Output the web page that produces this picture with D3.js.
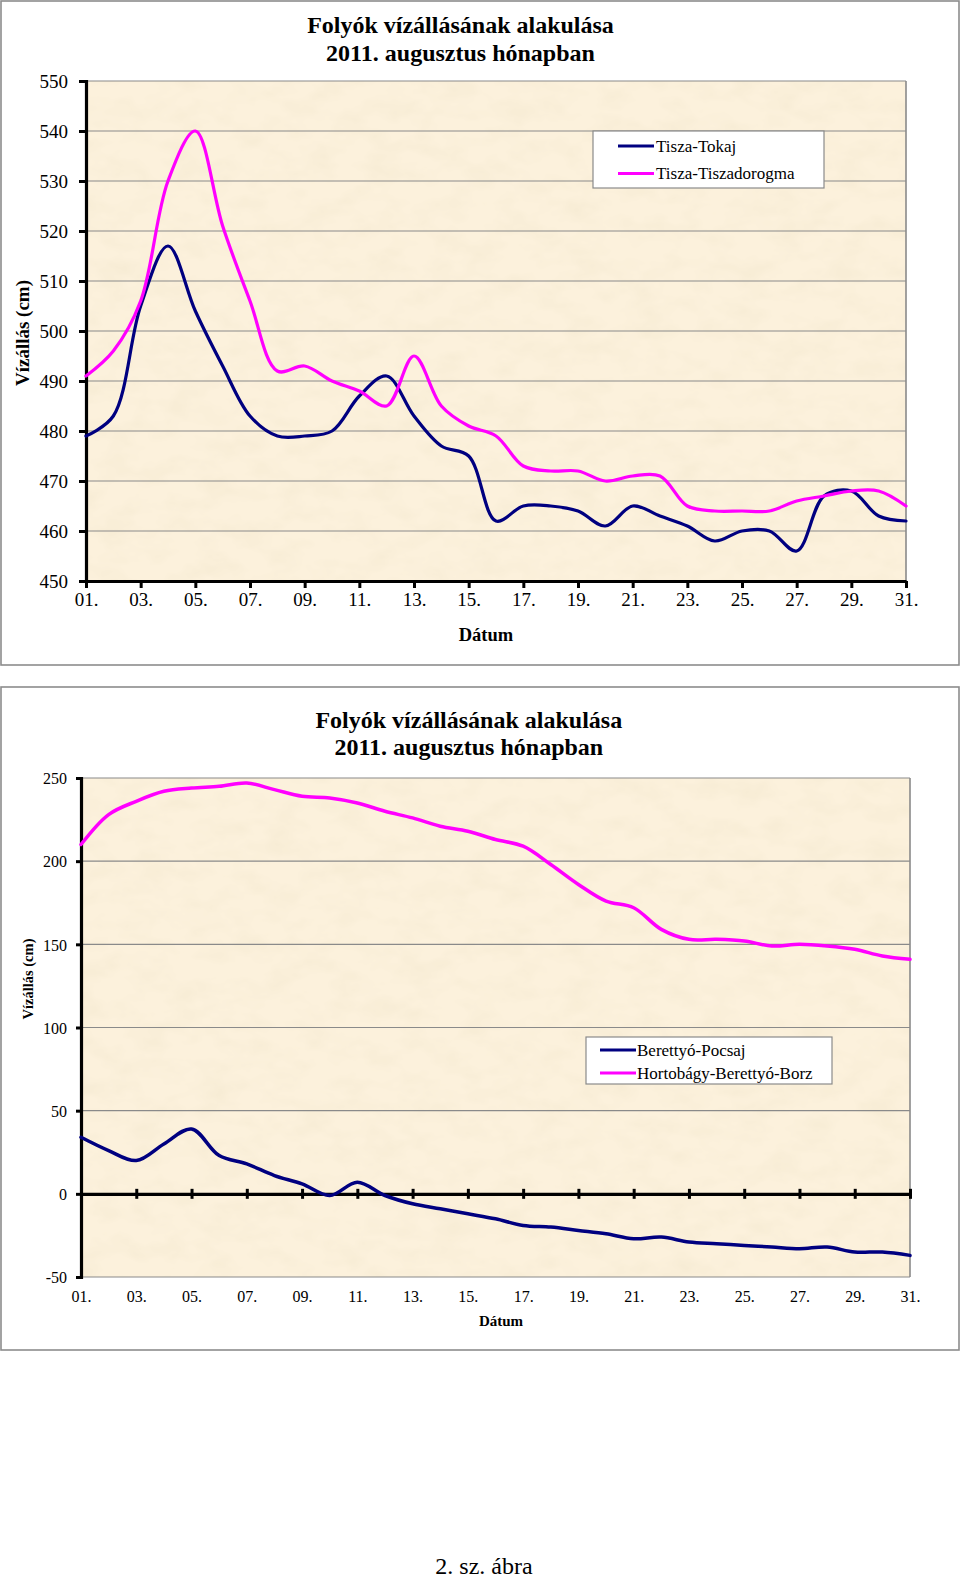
<!DOCTYPE html>
<html><head><meta charset="utf-8">
<script src="https://cdn.jsdelivr.net/npm/d3@7"></script>
<style>
body{margin:0;background:#fff}
svg{display:block}
text{font-family:"Liberation Serif","Times New Roman",serif;fill:#000}
</style>
</head><body>
<svg id="c" width="960" height="1581"></svg>
<script>
// ---------- data ----------
const dayLabels = ["01.","02.","03.","04.","05.","06.","07.","08.","09.","10.","11.","12.","13.","14.","15.","16.",
  "17.","18.","19.","20.","21.","22.","23.","24.","25.","26.","27.","28.","29.","30.","31."];
const tickDays = ["01.","03.","05.","07.","09.","11.","13.","15.","17.","19.","21.","23.","25.","27.","29.","31."];

const titleLines = ["Folyók vízállásának alakulása", "2011. augusztus hónapban"];
const yTitle = "Vízállás (cm)";
const xTitle = "Dátum";

// chart 1
const seriesNames1 = ["Tisza-Tokaj", "Tisza-Tiszadorogma"];
const tokaj = [479,483,505,517,504,493,483,479,479,480,487,491,483,477,475,462,465,465,464,461,465,463,461,458,460,460,456,467,468,463,462];
const tiszadorogma = [491,496,506,530,540,521,506,492,493,490,488,485,495,485,481,479,473,472,472,470,471,471,465,464,464,464,466,467,468,468,465];
const yTicks1 = [450,460,470,480,490,500,510,520,530,540,550];

// chart 2
const seriesNames2 = ["Berettyó-Pocsaj", "Hortobágy-Berettyó-Borz"];
const pocsaj = [34,26,20,30,39,23,18,11,6,-1,7,-1,-6,-9,-12,-15,-19,-20,-22,-24,-27,-26,-29,-30,-31,-32,-33,-32,-35,-35,-37];
const borz = [210,228,236,242,244,245,247,243,239,238,235,230,226,221,218,213,209,198,186,176,172,159,153,153,152,149,150,149,147,143,141];
const yTicks2 = [-50,0,50,100,150,200,250];

const caption = "2. sz. ábra";
const colors = ["#000080", "#ff00ff"];

// ---------- drawing ----------
const svg = d3.select("#c");
const defs = svg.append("defs");
const f = defs.append("filter").attr("id","tex").attr("x",0).attr("y",0).attr("width","100%").attr("height","100%");
f.append("feTurbulence").attr("type","fractalNoise").attr("baseFrequency","0.03 0.05").attr("numOctaves",3).attr("seed",7).attr("result","n");
f.append("feColorMatrix").attr("in","n").attr("type","matrix")
  .attr("values","0 0 0 0 0.91  0 0 0 0 0.82  0 0 0 0 0.64  1.3 0 0 0 -0.52");

function drawChart(o) {
  const g = svg.append("g");
  // outer frame
  g.append("rect").attr("x",o.frame[0]).attr("y",o.frame[1]).attr("width",o.frame[2]).attr("height",o.frame[3])
    .attr("fill","#fff").attr("stroke","#8c8c8c").attr("stroke-width",1.6);

  const x = d3.scalePoint().domain(dayLabels).range([o.x0, o.x1]);
  const y = d3.scaleLinear().domain(o.ydom).range([o.y1, o.y0]);

  // plot background
  g.append("rect").attr("x",o.x0).attr("y",o.y0).attr("width",o.x1-o.x0).attr("height",o.y1-o.y0).attr("fill","#fcf1dc");
  g.append("rect").attr("x",o.x0).attr("y",o.y0).attr("width",o.x1-o.x0).attr("height",o.y1-o.y0).attr("filter","url(#tex)");

  // gridlines + plot border
  g.append("g").selectAll("line").data(o.yTicks).join("line")
    .attr("x1",o.x0).attr("x2",o.x1).attr("y1",d=>y(d)).attr("y2",d=>y(d))
    .attr("stroke","#8a8a8a").attr("stroke-width",1.1);
  g.append("line").attr("x1",o.x1).attr("x2",o.x1).attr("y1",o.y0).attr("y2",o.y1).attr("stroke","#8a8a8a").attr("stroke-width",1.6);

  // y axis
  const ya = g.append("g").attr("transform",`translate(${o.x0},0)`)
    .call(d3.axisLeft(y).tickValues(o.yTicks).tickFormat(d=>String(d)).tickSize(o.ytick).tickPadding(o.ypad));
  ya.select(".domain").attr("stroke","#000").attr("stroke-width",3.2);
  ya.selectAll(".tick line").attr("stroke","#000").attr("stroke-width",3);
  ya.selectAll(".tick text").attr("font-family","Liberation Serif").attr("font-size",o.tickFont).attr("dy","0.36em");

  // x axis at zero line / bottom
  const axisY = y(o.xAxisAt);
  const xa = g.append("g").attr("transform",`translate(0,${axisY})`)
    .call(d3.axisBottom(x).tickValues(tickDays).tickSize(0).tickFormat(""));
  xa.select(".domain").attr("stroke","#000").attr("stroke-width",3.2);
  xa.selectAll(".tick line").attr("stroke","#000").attr("stroke-width",3)
    .attr("y1",o.xtickUp).attr("y2",o.xtickDown);
  // x labels at bottom of plot
  const xl = g.append("g").attr("transform",`translate(0,${o.y1})`)
    .call(d3.axisBottom(x).tickValues(tickDays).tickSize(0).tickPadding(o.xpad));
  xl.select(".domain").remove();
  xl.selectAll(".tick text").attr("font-family","Liberation Serif").attr("font-size",o.tickFont);

  // lines
  const line = d3.line().x((d,i)=>x(dayLabels[i])).y(d=>y(d)).curve(d3.curveCatmullRom.alpha(0.5));
  o.series.forEach((s,i)=>{
    g.append("path").datum(s).attr("d",line).attr("fill","none").attr("stroke",colors[i])
      .attr("stroke-width",o.lw).attr("stroke-linejoin","round").attr("stroke-linecap","round");
  });

  // title
  const t = g.append("text").attr("text-anchor","middle").attr("font-weight","bold").attr("font-size",24);
  titleLines.forEach((s,i)=>t.append("tspan").attr("x",o.titleX).attr("y",o.titleY[i]).text(s));

  // axis titles
  g.append("text").attr("transform",`translate(${o.yTitlePos[0]},${o.yTitlePos[1]}) rotate(-90)`)
    .attr("text-anchor","middle").attr("dy","0.35em").attr("font-weight","bold").attr("font-size",o.yTitleFont).text(yTitle);
  g.append("text").attr("x",o.xTitlePos[0]).attr("y",o.xTitlePos[1]).attr("text-anchor","middle")
    .attr("font-weight","bold").attr("font-size",o.xTitleFont).text(xTitle);

  // legend
  const L = o.legend;
  g.append("rect").attr("x",L.x).attr("y",L.y).attr("width",L.w).attr("height",L.h)
    .attr("fill","#fff").attr("stroke","#8a8a8a").attr("stroke-width",1.2);
  o.names.forEach((n,i)=>{
    const yy = L.rows[i];
    g.append("line").attr("x1",L.lx0).attr("x2",L.lx1).attr("y1",yy).attr("y2",yy)
      .attr("stroke",colors[i]).attr("stroke-width",3.2);
    g.append("text").attr("x",L.tx).attr("y",yy).attr("dy","0.35em").attr("font-size",17).text(n);
  });
}

drawChart({
  frame:[1,1,958,664],
  x0:86, x1:906, y0:81, y1:581, ydom:[450,550], yTicks:yTicks1,
  ytick:7, ypad:11, xpad:12, tickFont:19, xAxisAt:450, xtickUp:0, xtickDown:7,
  series:[tokaj, tiszadorogma], names:seriesNames1, lw:3.2,
  titleX:460.5, titleY:[33,61],
  yTitlePos:[22,333], yTitleFont:19, xTitlePos:[486,641], xTitleFont:18.5,
  legend:{x:593,y:131,w:231,h:57,lx0:618,lx1:654,tx:656,rows:[146,173.5]}
});

drawChart({
  frame:[1,687,958,663],
  x0:81, x1:910, y0:778, y1:1277, ydom:[-50,250], yTicks:yTicks2,
  ytick:5, ypad:9, xpad:14, tickFont:16, xAxisAt:0, xtickUp:-5, xtickDown:5,
  series:[pocsaj, borz], names:seriesNames2, lw:3.5,
  titleX:468.8, titleY:[727.5,755],
  yTitlePos:[28,979], yTitleFont:14.5, xTitlePos:[501,1326], xTitleFont:15,
  legend:{x:586,y:1037,w:246,h:47,lx0:600,lx1:636,tx:637,rows:[1050,1073]}
});

svg.append("text").attr("x",484).attr("y",1574).attr("text-anchor","middle").attr("font-size",24).text(caption);
</script>
</body></html>
